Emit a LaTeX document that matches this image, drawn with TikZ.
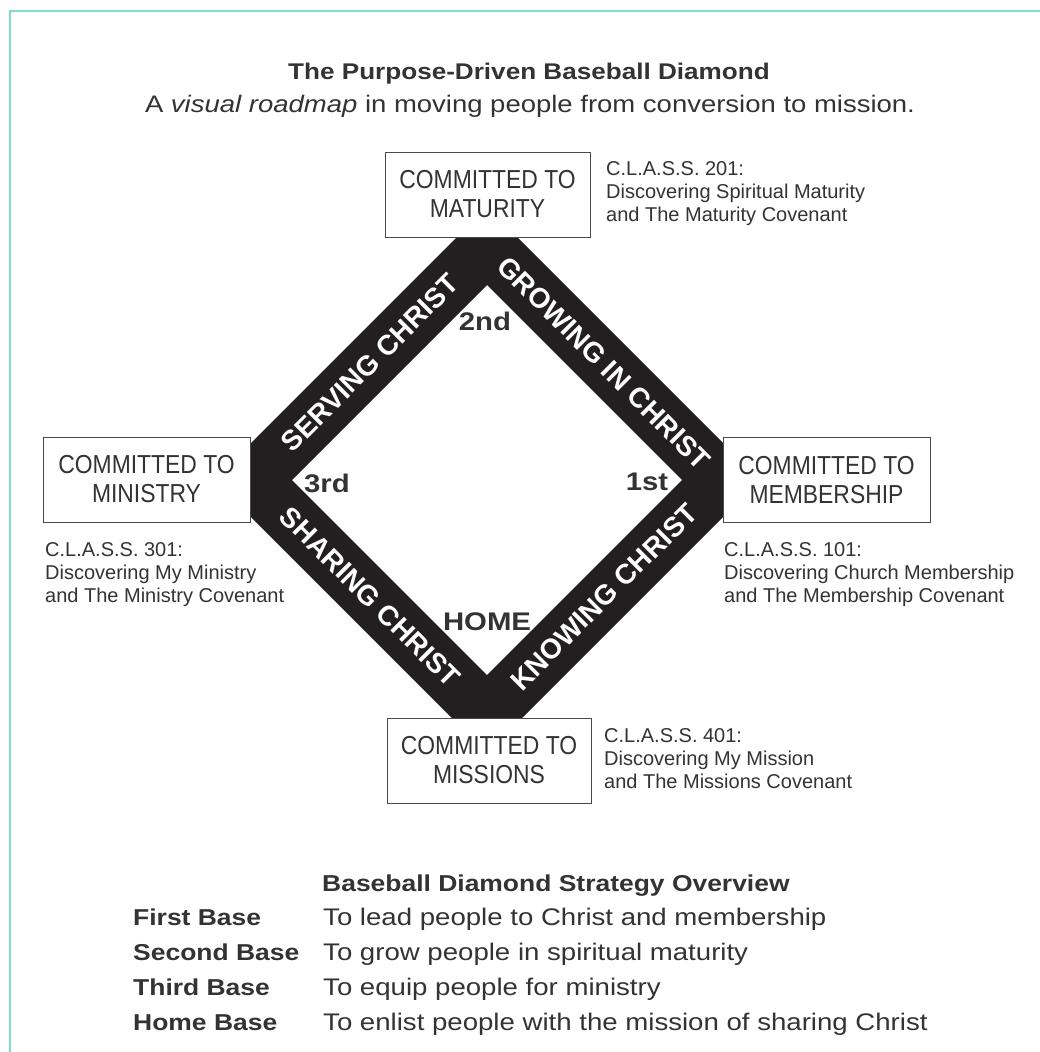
\documentclass[tikz,border=0pt]{standalone}
\usepackage{fontspec}
\setmainfont{Liberation Sans}
\newfontfamily\boxf{Liberation Sans}[FakeStretch=0.88]
\newfontfamily\widef{Liberation Sans}[FakeStretch=1.15]
\definecolor{ink}{HTML}{333333}
\definecolor{diam}{HTML}{231F20}
\definecolor{frame}{HTML}{7FDDC9}
\definecolor{boxline}{HTML}{4A4A4A}
\tikzset{
  frameline/.style={draw=frame, line width=2},
  basebox/.style={draw=boxline, fill=white, line width=1, minimum width=205, minimum height=85,
    align=center, inner sep=0, text=ink, font=\boxf\fontsize{26}{29}\selectfont},
  note/.style={anchor=north west, align=left, inner sep=0, text=ink, font=\fontsize{20}{23}\selectfont},
  edgelab/.style={text=white, inner sep=0, font=\bfseries\fontsize{28}{30}\selectfont},
  baselab/.style={text=ink, inner sep=0, font=\widef\bfseries\fontsize{25.5}{28}\selectfont},
  titletext/.style={text=ink, inner sep=0, anchor=base},
  rowlab/.style={text=ink, inner sep=0, anchor=base west, font=\widef\bfseries\fontsize{23}{26}\selectfont},
  rowdesc/.style={text=ink, inner sep=0, anchor=base west, font=\widef\fontsize{24}{26}\selectfont}
}
\begin{document}
\begin{tikzpicture}[x=1pt,y=-1pt]
\useasboundingbox (0,0) rectangle (1040,1052);
\fill[white] (0,0) rectangle (1040,1052);
% frame
\coordinate (fbl) at (10,1060);
\coordinate (ftl) at (10,11);
\coordinate (ftr) at (1050,11);
\draw[frameline] (fbl) -- (ftl) -- (ftr);
% titles
\node[titletext, font=\widef\bfseries\fontsize{22.7}{26}\selectfont] (title) at (529,79) {The Purpose-Driven Baseball Diamond};
\node[titletext, font=\widef\fontsize{23.9}{27}\selectfont] (subtitle) at (530,112) {A \textit{visual roadmap} in moving people from conversion to mission.};
% diamond
\fill[diam, even odd rule] (487,207) -- (760,480) -- (487,753) -- (214,480) -- cycle
  (487,285) -- (682,480) -- (487,675) -- (292,480) -- cycle;
\node[edgelab, rotate=-45] (grow) at (604,363) {GROWING IN CHRIST};
\node[edgelab, rotate=45] (serve) at (370,363) {SERVING CHRIST};
\node[edgelab, rotate=-45] (share) at (370,597) {SHARING CHRIST};
\node[edgelab, rotate=45] (know) at (604,597) {KNOWING CHRIST};
\node[baselab] (second) at (485,321) {2nd};
\node[baselab] (third) at (327,483) {3rd};
\node[baselab] (first) at (647,482) {1st};
\node[baselab] (home) at (487,622) {HOME};
% boxes
\node[basebox] (maturity) at (487.5,194.5) {COMMITTED TO\\MATURITY};
\node[basebox, minimum width=207] (ministry) at (146.5,479.5) {COMMITTED TO\\MINISTRY};
\node[basebox, minimum width=207] (membership) at (826.5,480) {COMMITTED TO\\MEMBERSHIP};
\node[basebox, minimum width=204] (missions) at (489,760.5) {COMMITTED TO\\MISSIONS};
% notes
\node[note] (n201) at (606,161) {C.L.A.S.S. 201:\\Discovering Spiritual Maturity\\and The Maturity Covenant};
\node[note] (n301) at (45,542) {C.L.A.S.S. 301:\\Discovering My Ministry\\and The Ministry Covenant};
\node[note] (n101) at (724,542) {C.L.A.S.S. 101:\\Discovering Church Membership\\and The Membership Covenant};
\node[note] (n401) at (604,728) {C.L.A.S.S. 401:\\Discovering My Mission\\and The Missions Covenant};
% overview
\node[text=ink, inner sep=0, anchor=base west, font=\widef\bfseries\fontsize{23}{26}\selectfont] (ovh) at (322,891) {Baseball Diamond Strategy Overview};
\node[rowlab] (l1) at (133,925) {First Base};
\node[rowdesc] (d1) at (323,925) {To lead people to Christ and membership};
\node[rowlab] (l2) at (133,960) {Second Base};
\node[rowdesc] (d2) at (323,960) {To grow people in spiritual maturity};
\node[rowlab] (l3) at (133,995) {Third Base};
\node[rowdesc] (d3) at (323,995) {To equip people for ministry};
\node[rowlab] (l4) at (133,1030) {Home Base};
\node[rowdesc] (d4) at (323,1030) {To enlist people with the mission of sharing Christ};
\end{tikzpicture}
\end{document}
